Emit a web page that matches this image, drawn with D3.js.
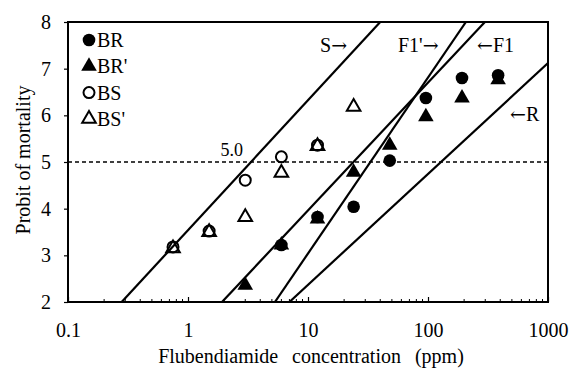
<!DOCTYPE html>
<html>
<head>
<meta charset="utf-8">
<script src="https://cdn.jsdelivr.net/npm/d3@7"></script>
<style>
    body { margin: 0; background: #fff; }
    svg { display: block; }
    text { font-family: "Liberation Serif", "Times New Roman", serif; fill: #000; }
</style>
</head>
<body>
<div id="chart"></div>
<script>
// dose levels (ppm) and probit values
var doses = [0.75, 1.5, 3, 6, 12, 24, 48, 96, 192, 384];
var probitBR = [null, null, null, 3.22, 3.82, 4.04, 5.03, 6.37, 6.80, 6.86];
var probitBR2 = [null, null, 2.36, 3.22, 3.78, 4.78, 5.36, 5.97, 6.37, 6.76];
var probitBS = [3.18, 3.52, 4.61, 5.11, 5.36, null, null, null, null, null];
var probitBS2 = [3.15, 3.50, 3.82, 4.77, 5.34, 6.18, null, null, null, null];

// regression lines: [dose, probit] at each end
var lineS = [[0.28, 2], [40, 8]];
var lineF1 = [[1.92, 2], [298, 8]];
var lineF1b = [[5.3, 2], [207, 8]];
var lineR = [[7.0, 2], [1000, 7.12]];

var xTicks = [0.1, 1, 10, 100, 1000];
var yTicks = [2, 3, 4, 5, 6, 7, 8];

var width = 573, height = 370;
var margin = { top: 22, right: 25, bottom: 68, left: 68 };
var w = width - margin.left - margin.right;
var h = height - margin.top - margin.bottom;

var svg = d3.select('#chart').append('svg')
    .attr('width', width)
    .attr('height', height);

var g = svg.append('g')
    .attr('transform', 'translate(' + margin.left + ',' + margin.top + ')');

var x = d3.scaleLog().domain([0.1, 1000]).range([0, w]);
var y = d3.scaleLinear().domain([2, 8]).range([h, 0]);

// minor ticks on the log axis (inside the frame)
var minor = [];
for (var d = 0; d < 4; d++) {
    for (var k = 2; k <= 9; k++) minor.push(k * Math.pow(10, d - 1));
}
g.selectAll('.minor')
    .data(minor)
    .enter().append('line')
    .attr('x1', function (v) { return x(v); })
    .attr('x2', function (v) { return x(v); })
    .attr('y1', h)
    .attr('y2', h - 3)
    .style('stroke', '#000')
    .style('stroke-width', 1);

var xAxis = g.append('g')
    .attr('transform', 'translate(0,' + h + ')')
    .call(d3.axisBottom(x).tickValues(xTicks).tickSize(-5).tickPadding(21)
        .tickFormat(function (v) { return String(v); }));
xAxis.select('.domain').remove();
xAxis.selectAll('text').style('font-size', '20px').attr('font-family', null);
xAxis.selectAll('line').style('stroke-width', 1.2);

var yAxis = g.append('g')
    .call(d3.axisLeft(y).tickValues(yTicks).tickSize(4).tickPadding(13)
        .tickFormat(d3.format('d')));
yAxis.select('.domain').remove();
yAxis.selectAll('text').style('font-size', '20px').attr('font-family', null);
yAxis.selectAll('line').style('stroke-width', 1.2);

// dashed reference line at probit 5
g.append('line')
    .attr('x1', 0).attr('x2', w)
    .attr('y1', y(5)).attr('y2', y(5))
    .style('stroke', '#000')
    .style('stroke-width', 1.3)
    .style('stroke-dasharray', '4,3');

g.append('text')
    .attr('x', 175).attr('y', y(5) - 6)
    .attr('text-anchor', 'end')
    .style('font-size', '18px')
    .text('5.0');

// frame
g.append('rect')
    .attr('width', w).attr('height', h)
    .style('fill', 'none')
    .style('stroke', '#000')
    .style('stroke-width', 2);

// clip the regression lines to the plot
svg.append('clipPath').attr('id', 'clip')
    .append('rect').attr('width', w).attr('height', h);

var line = d3.line()
    .x(function (p) { return x(p[0]); })
    .y(function (p) { return y(p[1]); });

g.append('g').attr('clip-path', 'url(#clip)')
    .selectAll('path')
    .data([lineS, lineF1, lineF1b, lineR])
    .enter().append('path')
    .attr('d', line)
    .style('fill', 'none')
    .style('stroke', '#000')
    .style('stroke-width', 2.2);

// point series
var circle = d3.symbol().type(d3.symbolCircle).size(125);
var triangle = d3.symbol().type(d3.symbolTriangle).size(105);
var circleOpen = d3.symbol().type(d3.symbolCircle).size(95);
var triangleOpen = d3.symbol().type(d3.symbolTriangle).size(80);

var series = [
    { name: 'BR', values: probitBR, sym: circle, filled: true },
    { name: "BR'", values: probitBR2, sym: triangle, filled: true },
    { name: 'BS', values: probitBS, sym: circleOpen, filled: false },
    { name: "BS'", values: probitBS2, sym: triangleOpen, filled: false }
];

series.forEach(function (s) {
    var pts = doses.map(function (dv, i) { return [dv, s.values[i]]; })
        .filter(function (p) { return p[1] != null; });
    g.selectAll(null)
        .data(pts)
        .enter().append('path')
        .attr('d', s.sym)
        .attr('transform', function (p) { return 'translate(' + x(p[0]) + ',' + y(p[1]) + ')'; })
        .style('fill', s.filled ? '#000' : 'none')
        .style('stroke', '#000')
        .style('stroke-width', s.filled ? 0 : 2);
});

// legend
var legend = g.append('g').attr('transform', 'translate(21,18)');
series.forEach(function (s, i) {
    var row = legend.append('g').attr('transform', 'translate(0,' + (i * 26.3) + ')');
    row.append('path')
        .attr('d', s.sym)
        .style('fill', s.filled ? '#000' : 'none')
        .style('stroke', '#000')
        .style('stroke-width', s.filled ? 0 : 2);
    row.append('text')
        .attr('x', 8).attr('y', 7)
        .style('font-size', '20px')
        .text(s.name);
});

// line labels (arrow drawn with a wider glyph)
var labels = [
    { pre: 'S', arrow: '\u2192', post: '', x: 252, y: 30 },
    { pre: "F1'", arrow: '\u2192', post: '', x: 330, y: 30 },
    { pre: '', arrow: '\u2190', post: 'F1', x: 409, y: 30 },
    { pre: '', arrow: '\u2190', post: 'R', x: 442, y: 99 }
];
var lab = g.selectAll('.lab')
    .data(labels)
    .enter().append('text')
    .attr('x', function (d) { return d.x; })
    .attr('y', function (d) { return d.y; })
    .style('font-size', '20px');
lab.append('tspan').text(function (d) { return d.pre; });
lab.append('tspan')
    .style('font-family', '"DejaVu Serif", serif')
    .style('font-size', '19px')
    .text(function (d) { return d.arrow; });
lab.append('tspan').text(function (d) { return d.post; });

// axis titles
svg.append('text')
    .attr('x', margin.left + w / 2 + 3)
    .attr('y', 363)
    .attr('text-anchor', 'middle')
    .style('font-size', '20px')
    .style('word-spacing', '9px')
    .text('Flubendiamide concentration (ppm)');

svg.append('text')
    .attr('transform', 'translate(30,' + (margin.top + h / 2 - 2) + ') rotate(-90)')
    .attr('text-anchor', 'middle')
    .style('font-size', '20px')
    .text('Probit of mortality');
</script>
</body>
</html>
